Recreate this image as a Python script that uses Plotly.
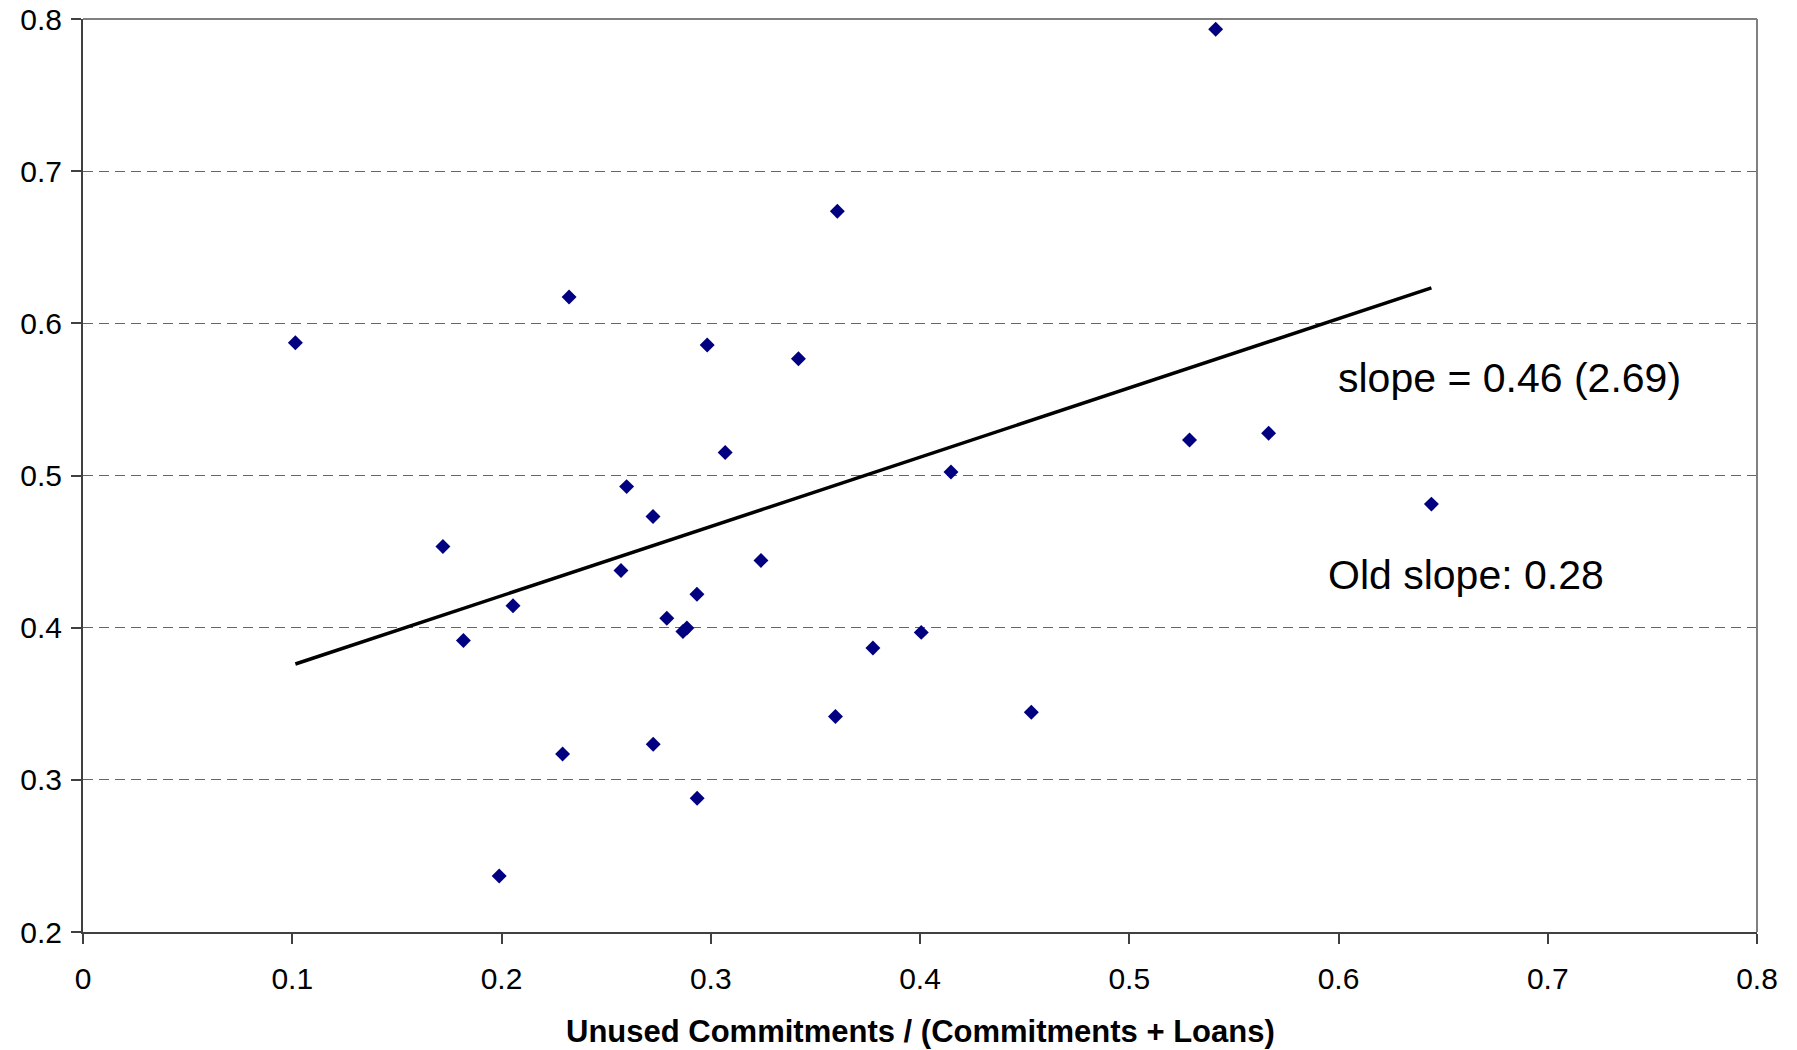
import plotly.graph_objects as go

# ---- data ----
x_vals = [0.1015, 0.1720, 0.1818, 0.1989, 0.2055, 0.2292, 0.2323, 0.2571, 0.2598, 0.2724,
          0.2725, 0.2790, 0.2867, 0.2886, 0.2934, 0.2935, 0.2983, 0.3069, 0.3240, 0.3419,
          0.3596, 0.3605, 0.3775, 0.4006, 0.4148, 0.4532, 0.5288, 0.5413, 0.5666, 0.6444]
y_vals = [0.5873, 0.4533, 0.3916, 0.2368, 0.4144, 0.3170, 0.6173, 0.4376, 0.4927, 0.4730,
          0.3234, 0.4062, 0.3975, 0.3998, 0.4220, 0.2879, 0.5858, 0.5151, 0.4442, 0.5767,
          0.3416, 0.6737, 0.3866, 0.3969, 0.5023, 0.3444, 0.5233, 0.7933, 0.5278, 0.4812]

fit_x = [0.1015, 0.6444]
fit_y = [0.3761, 0.6233]

x_ticks = [0, 0.1, 0.2, 0.3, 0.4, 0.5, 0.6, 0.7, 0.8]
x_tick_labels = ["0", "0.1", "0.2", "0.3", "0.4", "0.5", "0.6", "0.7", "0.8"]
y_ticks = [0.2, 0.3, 0.4, 0.5, 0.6, 0.7, 0.8]
y_tick_labels = ["0.2", "0.3", "0.4", "0.5", "0.6", "0.7", "0.8"]

x_title = "Unused Commitments / (Commitments + Loans)"
slope_text = "slope = 0.46 (2.69)"
old_slope_text = "Old slope: 0.28"

FONT = "Liberation Sans, Arial, sans-serif"

fig = go.Figure()
fig.add_trace(go.Scatter(
    x=fit_x, y=fit_y, mode="lines",
    line=dict(color="black", width=3.5), showlegend=False, hoverinfo="skip"))
fig.add_trace(go.Scatter(
    x=x_vals, y=y_vals, mode="markers",
    marker=dict(symbol="diamond", size=11.5, color="#000080", line=dict(width=0)),
    showlegend=False))

fig.update_layout(
    width=1797, height=1050,
    margin=dict(l=83, r=40, t=19, b=118, autoexpand=False),
    paper_bgcolor="white", plot_bgcolor="white",
    font=dict(family=FONT, color="black"),
    xaxis=dict(
        range=[0, 0.8], tickvals=x_ticks, ticktext=x_tick_labels,
        ticks="outside", ticklen=10, tickwidth=1.5, tickcolor="#404040",
        showline=True, linecolor="#404040", linewidth=2,
        showgrid=False, zeroline=False,
        tickfont=dict(family=FONT, size=30, color="black"),
        ticklabelstandoff=9,
    ),
    yaxis=dict(
        range=[0.2, 0.8], tickvals=y_ticks, ticktext=y_tick_labels,
        ticks="outside", ticklen=10, tickwidth=1.5, tickcolor="#404040",
        showline=True, linecolor="#404040", linewidth=2,
        showgrid=True, gridcolor="#666666", gridwidth=1.3, griddash="10px,6px",
        zeroline=False,
        tickfont=dict(family=FONT, size=30, color="black"),
        ticklabelstandoff=3,
    ),
    shapes=[
        dict(type="line", xref="paper", yref="paper", x0=0, x1=1, y0=1, y1=1,
             line=dict(color="#808080", width=2)),
        dict(type="line", xref="paper", yref="paper", x0=1, x1=1, y0=0, y1=1,
             line=dict(color="#808080", width=2)),
    ],
    annotations=[
        dict(text="<b>" + x_title + "</b>", xref="paper", yref="paper",
             x=0.5, y=-0.109, xanchor="center", yanchor="middle", showarrow=False,
             font=dict(family=FONT, size=31, color="black")),
        dict(text=slope_text, xref="x", yref="y", x=0.5987, y=0.5642,
             xanchor="left", yanchor="middle", showarrow=False,
             font=dict(family=FONT, size=41, color="black")),
        dict(text=old_slope_text, xref="x", yref="y", x=0.5939, y=0.4347,
             xanchor="left", yanchor="middle", showarrow=False,
             font=dict(family=FONT, size=41, color="black")),
    ],
)

# remove the browser's default 8px body margin so the figure fills the window
fig.write_html("out.html",
               config={"displayModeBar": False},
               post_script="document.body.style.margin='0';document.body.style.overflow='hidden';")
